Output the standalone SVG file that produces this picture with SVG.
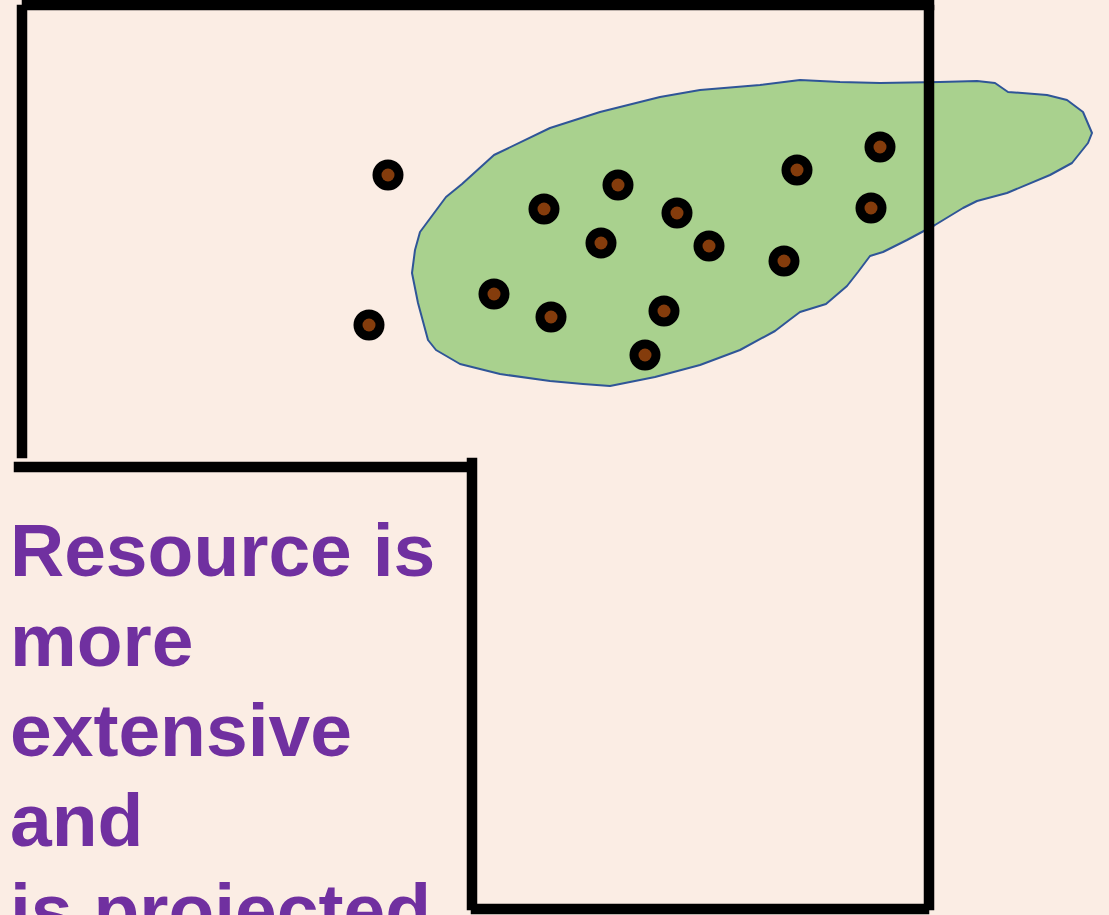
<svg xmlns="http://www.w3.org/2000/svg" width="1109" height="915" viewBox="0 0 1109 915">
  <defs>
    <style>
      .wall { stroke: #000; stroke-width: 10.5; fill: none; stroke-linecap: square; }
      .ring { fill: #000; }
      .core { fill: #843C0C; }
      .lbl { font-family: "Liberation Sans", Arial, sans-serif; font-weight: bold; font-size: 75px; fill: #7030A0; }
    </style>
  </defs>
  <rect x="0" y="0" width="1109" height="915" fill="#FBEDE4"/>
  <g id="resource-body">
    <path d="M420,232 L446,197 L462,184 L494,155 L550,128 L600,112 L660,97 L700,90 L760,85 L800,80 L840,82 L880,83 L940,82 L977,81 L995,83 L1008,92 L1047,95 L1067,100 L1083,112 L1092,133 L1088,143 L1072,163 L1050,175 L1007,193 L977,201 L963,208 L935,225 L907,240 L883,252 L870,256 L858,272 L847,286 L826,304 L800,312 L792,318 L775,331 L740,350 L700,365 L655,377 L610,386 L583,384 L550,381 L500,374 L460,364 L436,350 L428,340 L418,303 L412,273 L415,250 Z" fill="#A9D18E" stroke="#2F5597" stroke-width="2" stroke-linejoin="round"/>
  </g>
  <g id="drill-holes">
    <g id="hole-1"><circle class="ring" cx="388" cy="175" r="15.5"/><circle class="core" cx="388" cy="175" r="6.5"/></g>
    <g id="hole-2"><circle class="ring" cx="369" cy="325" r="15.5"/><circle class="core" cx="369" cy="325" r="6.5"/></g>
    <g id="hole-3"><circle class="ring" cx="544" cy="209" r="15.5"/><circle class="core" cx="544" cy="209" r="6.5"/></g>
    <g id="hole-4"><circle class="ring" cx="618" cy="185" r="15.5"/><circle class="core" cx="618" cy="185" r="6.5"/></g>
    <g id="hole-5"><circle class="ring" cx="677" cy="213" r="15.5"/><circle class="core" cx="677" cy="213" r="6.5"/></g>
    <g id="hole-6"><circle class="ring" cx="601" cy="243" r="15.5"/><circle class="core" cx="601" cy="243" r="6.5"/></g>
    <g id="hole-7"><circle class="ring" cx="709" cy="246" r="15.5"/><circle class="core" cx="709" cy="246" r="6.5"/></g>
    <g id="hole-8"><circle class="ring" cx="797" cy="170" r="15.5"/><circle class="core" cx="797" cy="170" r="6.5"/></g>
    <g id="hole-9"><circle class="ring" cx="880" cy="147" r="15.5"/><circle class="core" cx="880" cy="147" r="6.5"/></g>
    <g id="hole-10"><circle class="ring" cx="871" cy="208" r="15.5"/><circle class="core" cx="871" cy="208" r="6.5"/></g>
    <g id="hole-11"><circle class="ring" cx="784" cy="261" r="15.5"/><circle class="core" cx="784" cy="261" r="6.5"/></g>
    <g id="hole-12"><circle class="ring" cx="494" cy="294" r="15.5"/><circle class="core" cx="494" cy="294" r="6.5"/></g>
    <g id="hole-13"><circle class="ring" cx="551" cy="317" r="15.5"/><circle class="core" cx="551" cy="317" r="6.5"/></g>
    <g id="hole-14"><circle class="ring" cx="664" cy="311" r="15.5"/><circle class="core" cx="664" cy="311" r="6.5"/></g>
    <g id="hole-15"><circle class="ring" cx="645" cy="355" r="15.5"/><circle class="core" cx="645" cy="355" r="6.5"/></g>
  </g>
  <g id="boundary">
    <line class="wall" x1="27" y1="5" x2="929" y2="5"/>
    <line class="wall" x1="22" y1="10" x2="22" y2="453"/>
    <line class="wall" x1="19" y1="467" x2="467" y2="467"/>
    <line class="wall" x1="472" y1="463" x2="472" y2="905"/>
    <line class="wall" x1="476" y1="909" x2="924" y2="909"/>
    <line class="wall" x1="929" y1="10" x2="929" y2="905"/>
  </g>
  <g id="caption">
    <text class="lbl" x="10" y="576">Resource is</text>
    <text class="lbl" x="10" y="666">more</text>
    <text class="lbl" x="10" y="756">extensive</text>
    <text class="lbl" x="10" y="846">and</text>
    <text class="lbl" x="10" y="936">is projected</text>
  </g>
</svg>
